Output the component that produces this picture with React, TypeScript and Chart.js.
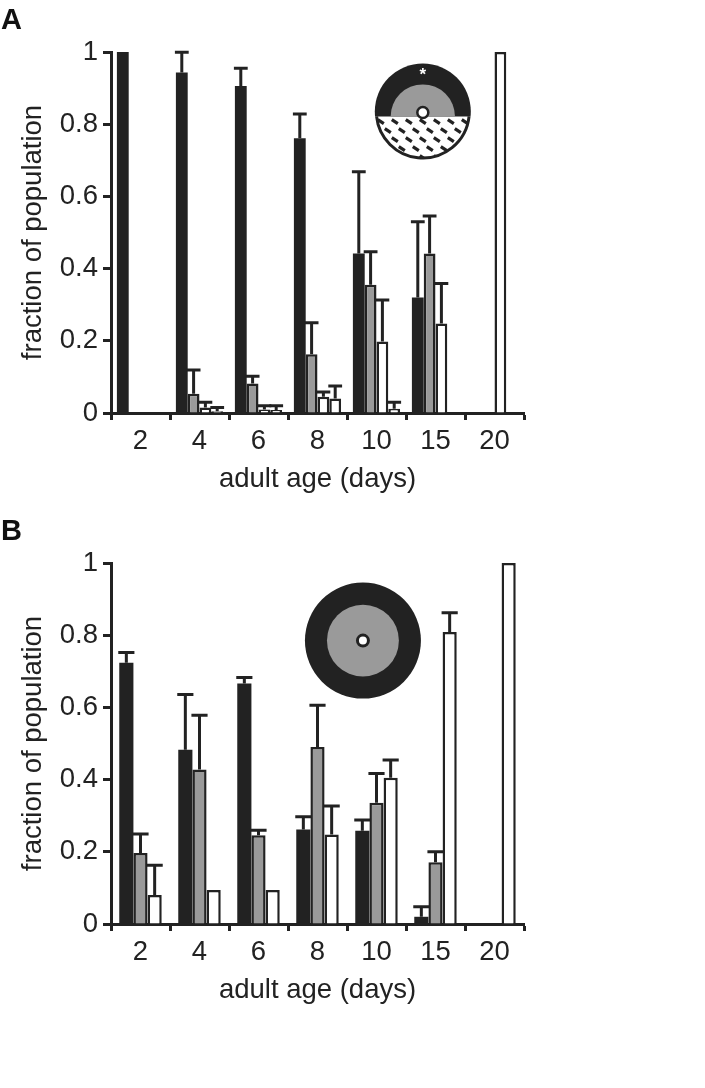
import React, { useEffect, useRef } from "react";
import { Chart, registerables } from "chart.js";

Chart.register(...registerables);

// ---------- data ----------
const ageLabels = ["2", "4", "6", "8", "10", "15", "20"];
const yTickStep = 0.2;

// Panel A (4 classes: black, gray, white, hatched/white)
const aBlack = [1.0, 0.943, 0.906, 0.761, 0.442, 0.32, 0];
const aBlackErr = [0, 0.056, 0.049, 0.067, 0.226, 0.21, 0];
const aGray = [0, 0.053, 0.082, 0.163, 0.355, 0.442, 0];
const aGrayErr = [0, 0.066, 0.02, 0.087, 0.092, 0.104, 0];
const aWhite = [0, 0.015, 0.01, 0.045, 0.198, 0.248, 1.0];
const aWhiteErr = [0, 0.015, 0.01, 0.013, 0.115, 0.111, 0];
const aHatched = [0, 0.005, 0.008, 0.04, 0.012, 0, 0];
const aHatchedErr = [0, 0.01, 0.012, 0.035, 0.018, 0, 0];

// Panel B (3 classes: black, gray, white)
const bBlack = [0.724, 0.483, 0.666, 0.262, 0.258, 0.02, 0];
const bBlackErr = [0.028, 0.153, 0.017, 0.035, 0.03, 0.028, 0];
const bGray = [0.197, 0.428, 0.246, 0.49, 0.336, 0.171, 0];
const bGrayErr = [0.052, 0.15, 0.014, 0.116, 0.081, 0.029, 0];
const bWhite = [0.08, 0.094, 0.094, 0.248, 0.405, 0.809, 1.0];
const bWhiteErr = [0.083, 0, 0, 0.079, 0.049, 0.053, 0];

// ---------- style ----------
const INK = "#222222";
const GRAY = "#9a9a9a";
const FONT = "'Liberation Sans', Arial, Helvetica, sans-serif";
const FS = 27.5;

const errorBarPlugin = {
  id: "errorBars",
  afterDatasetsDraw(chart: any) {
    const ctx = chart.ctx;
    const yScale = chart.scales.y;
    chart.data.datasets.forEach((ds: any, i: number) => {
      const errs = ds.errors;
      if (!errs) return;
      const meta = chart.getDatasetMeta(i);
      meta.data.forEach((bar: any, j: number) => {
        const v = ds.data[j];
        const e = errs[j];
        if (!e) return;
        const { x, width } = bar.getProps(["x", "width"], true);
        const y0 = yScale.getPixelForValue(v);
        const y1 = yScale.getPixelForValue(v + e);
        ctx.save();
        ctx.strokeStyle = INK;
        ctx.lineWidth = 3;
        ctx.lineCap = "butt";
        ctx.beginPath();
        ctx.moveTo(x, y0);
        ctx.lineTo(x, y1);
        ctx.moveTo(x - width / 2 - 1, y1);
        ctx.lineTo(x + width / 2 + 1, y1);
        ctx.stroke();
        ctx.restore();
      });
    });
  },
};

function drawInsetA(ctx: CanvasRenderingContext2D, cx: number, cy: number, r: number) {
  const div = cy + 5;
  ctx.save();
  ctx.beginPath();
  ctx.arc(cx, cy, r, 0, Math.PI * 2);
  ctx.fillStyle = "#fff";
  ctx.fill();
  // upper black half with gray half-disc
  ctx.save();
  ctx.beginPath();
  ctx.rect(cx - r - 2, cy - r - 2, 2 * r + 4, div - (cy - r - 2));
  ctx.clip();
  ctx.beginPath();
  ctx.arc(cx, cy, r, 0, Math.PI * 2);
  ctx.fillStyle = INK;
  ctx.fill();
  ctx.beginPath();
  ctx.arc(cx, div, r * 0.67, 0, Math.PI * 2);
  ctx.fillStyle = GRAY;
  ctx.fill();
  ctx.restore();
  // lower hatched half
  ctx.save();
  ctx.beginPath();
  ctx.rect(cx - r - 2, div, 2 * r + 4, r + 4);
  ctx.clip();
  ctx.beginPath();
  ctx.arc(cx, cy, r - 1.5, 0, Math.PI * 2);
  ctx.clip();
  ctx.strokeStyle = INK;
  ctx.lineWidth = 3.2;
  ctx.lineCap = "butt";
  for (let i = -8; i <= 8; i++) {
    for (let j = -1; j <= 6; j++) {
      const px = cx + i * 14 + j * 7;
      const py = div + 5 + j * 9;
      ctx.beginPath();
      ctx.moveTo(px - 3, py - 2);
      ctx.lineTo(px + 3, py + 2);
      ctx.stroke();
    }
  }
  ctx.restore();
  // outline of the lower half
  ctx.beginPath();
  const a = Math.asin(5 / r);
  ctx.arc(cx, cy, r - 1.5, a, Math.PI - a);
  ctx.strokeStyle = INK;
  ctx.lineWidth = 3;
  ctx.stroke();
  // centre circle
  ctx.beginPath();
  ctx.arc(cx, cy + 1, 5.5, 0, Math.PI * 2);
  ctx.fillStyle = "#fff";
  ctx.fill();
  ctx.lineWidth = 2.5;
  ctx.strokeStyle = INK;
  ctx.stroke();
  // asterisk
  ctx.fillStyle = "#fff";
  ctx.font = `bold 17px ${FONT}`;
  ctx.textAlign = "center";
  ctx.textBaseline = "middle";
  ctx.fillText("*", cx, cy - r + 12);
  ctx.restore();
}

function drawInsetB(ctx: CanvasRenderingContext2D, cx: number, cy: number, r: number) {
  ctx.save();
  ctx.beginPath();
  ctx.arc(cx, cy, r, 0, Math.PI * 2);
  ctx.fillStyle = INK;
  ctx.fill();
  ctx.beginPath();
  ctx.arc(cx, cy, r * 0.62, 0, Math.PI * 2);
  ctx.fillStyle = GRAY;
  ctx.fill();
  ctx.beginPath();
  ctx.arc(cx, cy, 5.5, 0, Math.PI * 2);
  ctx.fillStyle = "#fff";
  ctx.fill();
  ctx.lineWidth = 3;
  ctx.strokeStyle = INK;
  ctx.stroke();
  ctx.restore();
}

function makeDecorPlugin(letter: string, kind: "A" | "B") {
  return {
    id: "decor" + letter,
    afterDraw(chart: any) {
      const ctx = chart.ctx as CanvasRenderingContext2D;
      const area = chart.chartArea;
      ctx.save();
      ctx.fillStyle = "#111";
      ctx.font = `bold 29px ${FONT}`;
      ctx.textAlign = "left";
      ctx.textBaseline = "top";
      ctx.fillText(letter, 1, 6);
      ctx.restore();
      const w = area.right - area.left;
      const h = area.bottom - area.top;
      if (kind === "A") {
        drawInsetA(ctx, area.left + w * 0.755, area.top + h * 0.165, 48);
      } else {
        drawInsetB(ctx, area.left + w * 0.61, area.top + h * 0.215, 58);
      }
    },
  };
}

function makeDataset(label: string, data: number[], errors: number[], fill: string) {
  const isBlack = fill === INK;
  return {
    label,
    data,
    errors,
    backgroundColor: fill,
    borderColor: INK,
    borderWidth: (c: any) => (c.raw === 0 || isBlack ? 0 : 2.5),
    borderSkipped: "bottom",
  } as any;
}

function buildConfig(datasets: any[], catPct: number, letter: string, kind: "A" | "B") {
  return {
    type: "bar",
    data: { labels: ageLabels, datasets },
    options: {
      responsive: false,
      animation: false,
      devicePixelRatio: 1,
      layout: { padding: { left: 0, top: 52, right: 181, bottom: 0 } },
      plugins: { legend: { display: false }, tooltip: { enabled: false }, title: { display: false } },
      datasets: { bar: { categoryPercentage: catPct, barPercentage: 1 } },
      scales: {
        x: {
          type: "category",
          offset: true,
          grid: {
            offset: true,
            drawOnChartArea: false,
            drawTicks: true,
            tickLength: 7,
            tickWidth: 3,
            tickColor: INK,
          },
          border: { display: true, color: INK, width: 3 },
          ticks: {
            color: INK,
            font: { family: FONT, size: FS },
            padding: 5,
            maxRotation: 0,
            autoSkip: false,
          },
          title: {
            display: true,
            text: "adult age (days)",
            color: INK,
            font: { family: FONT, size: FS },
            padding: { top: 0, bottom: 14 },
          },
          afterFit: (s: any) => {
            s.height = 97;
          },
        },
        y: {
          min: 0,
          max: 1,
          grid: {
            drawOnChartArea: false,
            drawTicks: true,
            tickLength: 8,
            tickWidth: 3,
            tickColor: INK,
          },
          border: { display: true, color: INK, width: 3 },
          ticks: {
            stepSize: yTickStep,
            color: INK,
            font: { family: FONT, size: FS },
            padding: 5,
            callback: (v: any) => String(parseFloat(Number(v).toFixed(1))),
          },
          title: {
            display: true,
            text: "fraction of population",
            color: INK,
            font: { family: FONT, size: FS },
            padding: { top: 17, bottom: 0 },
          },
          afterFit: (s: any) => {
            s.width = 111;
          },
        },
      },
    },
    plugins: [errorBarPlugin, makeDecorPlugin(letter, kind)],
  } as any;
}

function Panel({ config, top }: { config: any; top: number }) {
  const ref = useRef<HTMLCanvasElement | null>(null);
  useEffect(() => {
    if (!ref.current) return;
    const chart = new Chart(ref.current, config);
    return () => chart.destroy();
  }, [config]);
  return (
    <canvas
      ref={ref}
      width={705}
      height={510}
      style={{ position: "absolute", left: 0, top, width: 705, height: 510 }}
    />
  );
}

const configA = buildConfig(
  [
    makeDataset("black", aBlack, aBlackErr, INK),
    makeDataset("gray", aGray, aGrayErr, GRAY),
    makeDataset("white", aWhite, aWhiteErr, "#ffffff"),
    makeDataset("hatched", aHatched, aHatchedErr, "#ffffff"),
  ],
  0.8,
  "A",
  "A"
);

const configB = buildConfig(
  [
    makeDataset("black", bBlack, bBlackErr, INK),
    makeDataset("gray", bGray, bGrayErr, GRAY),
    makeDataset("white", bWhite, bWhiteErr, "#ffffff"),
  ],
  0.72,
  "B",
  "B"
);

export default function App() {
  return (
    <div style={{ position: "absolute", left: 0, top: 0, width: 705, height: 1088, background: "#fff" }}>
      <Panel config={configA} top={0} />
      <Panel config={configB} top={511} />
    </div>
  );
}
